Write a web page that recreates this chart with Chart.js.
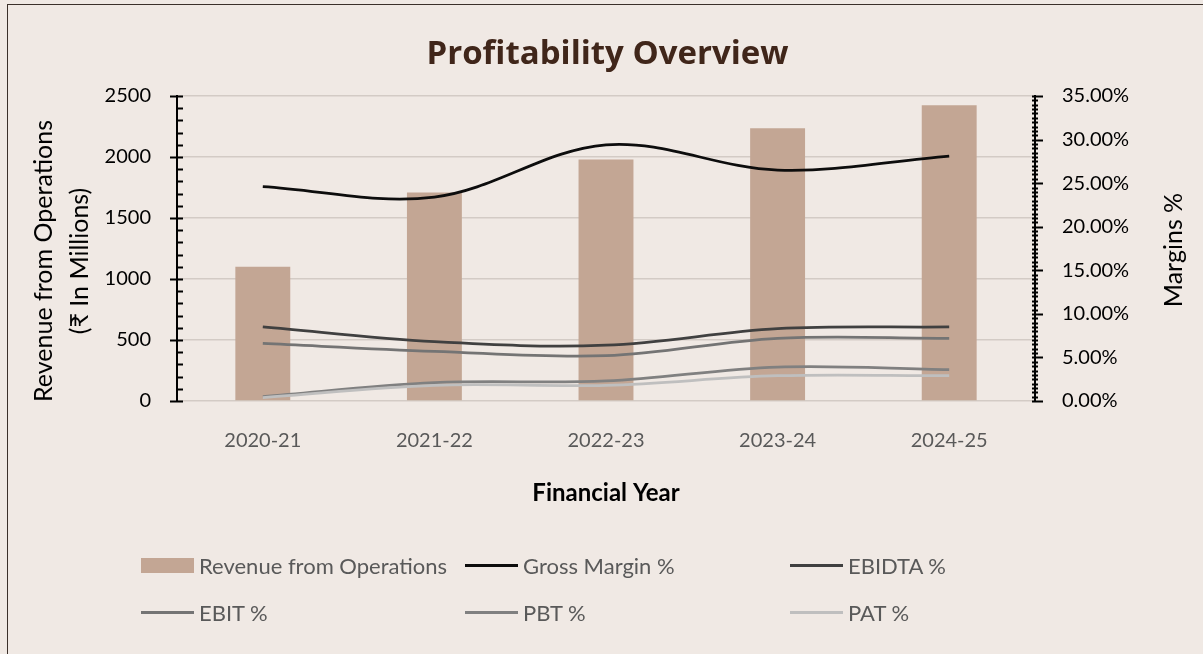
<!DOCTYPE html>
<html>
<head>
<meta charset="utf-8">
<title>Profitability Overview</title>
<script src="https://cdn.jsdelivr.net/npm/chart.js@4.4.1/dist/chart.umd.min.js"></script>
<style>
    html, body { margin: 0; padding: 0; background: #f0e9e4; }
    body { width: 1203px; height: 654px; overflow: hidden; position: relative; font-family: Lato, sans-serif; }
    #moldura { position: absolute; left: 7px; top: 4px; width: 1230px; height: 680px; border: 1px solid #3b302a; box-sizing: border-box; }
    #wrap { position: absolute; left: 0; top: 0; width: 1215px; height: 654px; }
    #legenda { position: absolute; left: 141px; top: 542px; display: grid; grid-template-columns: 324px 325px 300px; }
    .item { display: flex; align-items: center; height: 47px; font-size: 22px; color: #595959; white-space: nowrap; }
    .sw { width: 53px; margin-right: 5px; flex: none; }
</style>
</head>
<body>
<div id="moldura"></div>
<div id="wrap"><canvas id="chart-profit"></canvas></div>
<div id="legenda"></div>

<script>
// ==========================
// DADOS
// ==========================
const years = ['2020-21', '2021-22', '2022-23', '2023-24', '2024-25'];
const revenue = [1100, 1710, 1980, 2235, 2425];          // ₹ In Millions
const grossMargin = [24.6, 23.4, 29.4, 26.5, 28.1];      // %
const ebitdaMargin = [8.5, 6.8, 6.4, 8.3, 8.5];
const ebitMargin = [6.6, 5.7, 5.2, 7.2, 7.2];
const pbtMargin = [0.5, 2.1, 2.3, 3.9, 3.6];
const patMargin = [0.4, 1.8, 1.8, 2.9, 2.9];

const revenueTicks = [0, 500, 1000, 1500, 2000, 2500];
const marginTicks = [0, 5, 10, 15, 20, 25, 30, 35];
const revenueMinorStep = 100;
const marginMinorStep = 0.5;

const leftTitle = ['Revenue from Operations', '(₹ In Millions)'];
const rightTitle = 'Margins %';

const FONT = 'Lato';

// ==========================
// PLUGINS: marcas dos eixos e títulos verticais
// ==========================
const axisMarks = {
    id: 'axisMarks',
    afterDraw(chart) {
        const ctx = chart.ctx;
        const left = chart.scales.y;
        const right = chart.scales.y1;
        ctx.save();
        ctx.strokeStyle = '#000';
        ctx.lineWidth = 2;

        for (let v = left.min; v <= left.max; v += revenueMinorStep) {
            const py = Math.round(left.getPixelForValue(v)) + 0.5;
            const major = revenueTicks.includes(v);
            ctx.beginPath();
            ctx.moveTo(left.right - (major ? 7 : 0), py);
            ctx.lineTo(left.right + 6, py);
            ctx.stroke();
        }
        for (let i = 0; i * marginMinorStep <= right.max + 1e-9; i++) {
            const v = i * marginMinorStep;
            const py = Math.round(right.getPixelForValue(v)) + 0.5;
            const major = marginTicks.includes(v);
            ctx.beginPath();
            ctx.moveTo(right.left - 3, py);
            ctx.lineTo(right.left + (major ? 8 : 3), py);
            ctx.stroke();
        }
        ctx.restore();
    }
};

const axisTitles = {
    id: 'axisTitles',
    afterDraw(chart) {
        const { ctx, chartArea } = chart;
        ctx.save();
        ctx.fillStyle = '#000';
        ctx.font = `25px ${FONT}`;
        ctx.textAlign = 'center';
        ctx.textBaseline = 'middle';

        // esquerda: duas linhas, lidas de baixo para cima
        ctx.save();
        ctx.translate(chartArea.left - 133, chartArea.top + 165);
        ctx.rotate(-Math.PI / 2);
        ctx.fillText(leftTitle[0], 0, 0);
        ctx.fillText(leftTitle[1], 0, 36);
        ctx.restore();

        // direita
        ctx.save();
        ctx.translate(chartArea.right + 139, chartArea.top + 154);
        ctx.rotate(-Math.PI / 2);
        ctx.fillText(rightTitle, 0, 0);
        ctx.restore();

        ctx.restore();
    }
};

// ==========================
// CHART.JS
// ==========================
const lineDefaults = {
    type: 'line',
    yAxisID: 'y1',
    borderWidth: 2.75,
    pointRadius: 0,
    tension: 0.35,
    fill: false
};

const ctx = document.getElementById('chart-profit').getContext('2d');
const chart = new Chart(ctx, {
    data: {
        labels: years,
        datasets: [
            {
                type: 'bar',
                label: 'Revenue from Operations',
                data: revenue,
                yAxisID: 'y',
                backgroundColor: '#c3a694',
                barPercentage: 0.32,
                categoryPercentage: 1,
                order: 10
            },
            { ...lineDefaults, label: 'Gross Margin %', data: grossMargin, borderColor: '#0d0d0d', order: 5 },
            { ...lineDefaults, label: 'EBIDTA %', data: ebitdaMargin, borderColor: '#404040', order: 4 },
            { ...lineDefaults, label: 'EBIT %', data: ebitMargin, borderColor: '#747474', order: 3 },
            { ...lineDefaults, label: 'PBT %', data: pbtMargin, borderColor: '#808080', order: 2 },
            { ...lineDefaults, label: 'PAT %', data: patMargin, borderColor: '#bfbfbf', order: 1 }
        ]
    },
    options: {
        responsive: true,
        maintainAspectRatio: false,
        animation: false,
        layout: { padding: { left: 0, right: 0, top: 0, bottom: 143 } },
        scales: {
            x: {
                offset: true,
                grid: { display: false, drawTicks: false },
                border: { display: false },
                ticks: { color: '#595959', padding: 28, font: { family: FONT, size: 20 } },
                title: {
                    display: true,
                    text: 'Financial Year',
                    color: '#000',
                    font: { family: FONT, size: 24, weight: 'bold' },
                    padding: { top: 0, bottom: 3 }
                },
                afterFit: s => { s.height = 110; }
            },
            y: {
                position: 'left',
                min: 0,
                max: 2500,
                afterBuildTicks: s => { s.ticks = revenueTicks.map(v => ({ value: v })); },
                grid: { color: '#d3cbc5', lineWidth: 1.5, drawTicks: false },
                border: { display: true, color: '#000', width: 2 },
                ticks: {
                    color: '#000',
                    padding: 26,
                    font: { family: FONT, size: 20 },
                    callback: v => String(v)
                },
                afterFit: s => { s.width = 177; }
            },
            y1: {
                position: 'right',
                min: 0,
                max: 35,
                afterBuildTicks: s => { s.ticks = marginTicks.map(v => ({ value: v })); },
                grid: { display: false, drawTicks: false },
                border: { display: true, color: '#000', width: 2 },
                ticks: {
                    color: '#000',
                    padding: 27,
                    font: { family: FONT, size: 20 },
                    callback: v => v.toFixed(2) + '%'
                },
                afterFit: s => { s.width = 180; }
            }
        },
        plugins: {
            legend: { display: false },
            tooltip: { enabled: false },
            title: {
                display: true,
                text: 'Profitability Overview',
                color: '#40261a',
                font: { family: 'Open Sans', size: 33, weight: 'bold', lineHeight: 1.2 },
                padding: { top: 35, bottom: 21.4 }
            }
        }
    },
    plugins: [axisMarks, axisTitles]
});

// ==========================
// LEGENDA HTML (3 colunas)
// ==========================
const legenda = document.getElementById('legenda');
chart.data.datasets.forEach(ds => {
    const item = document.createElement('div');
    item.className = 'item';
    const sw = document.createElement('span');
    sw.className = 'sw';
    if (ds.type === 'bar') {
        sw.style.height = '15px';
        sw.style.background = ds.backgroundColor;
    } else {
        sw.style.height = '3px';
        sw.style.background = ds.borderColor;
    }
    const txt = document.createElement('span');
    txt.textContent = ds.label;
    item.appendChild(sw);
    item.appendChild(txt);
    legenda.appendChild(item);
});
</script>
</body>
</html>
